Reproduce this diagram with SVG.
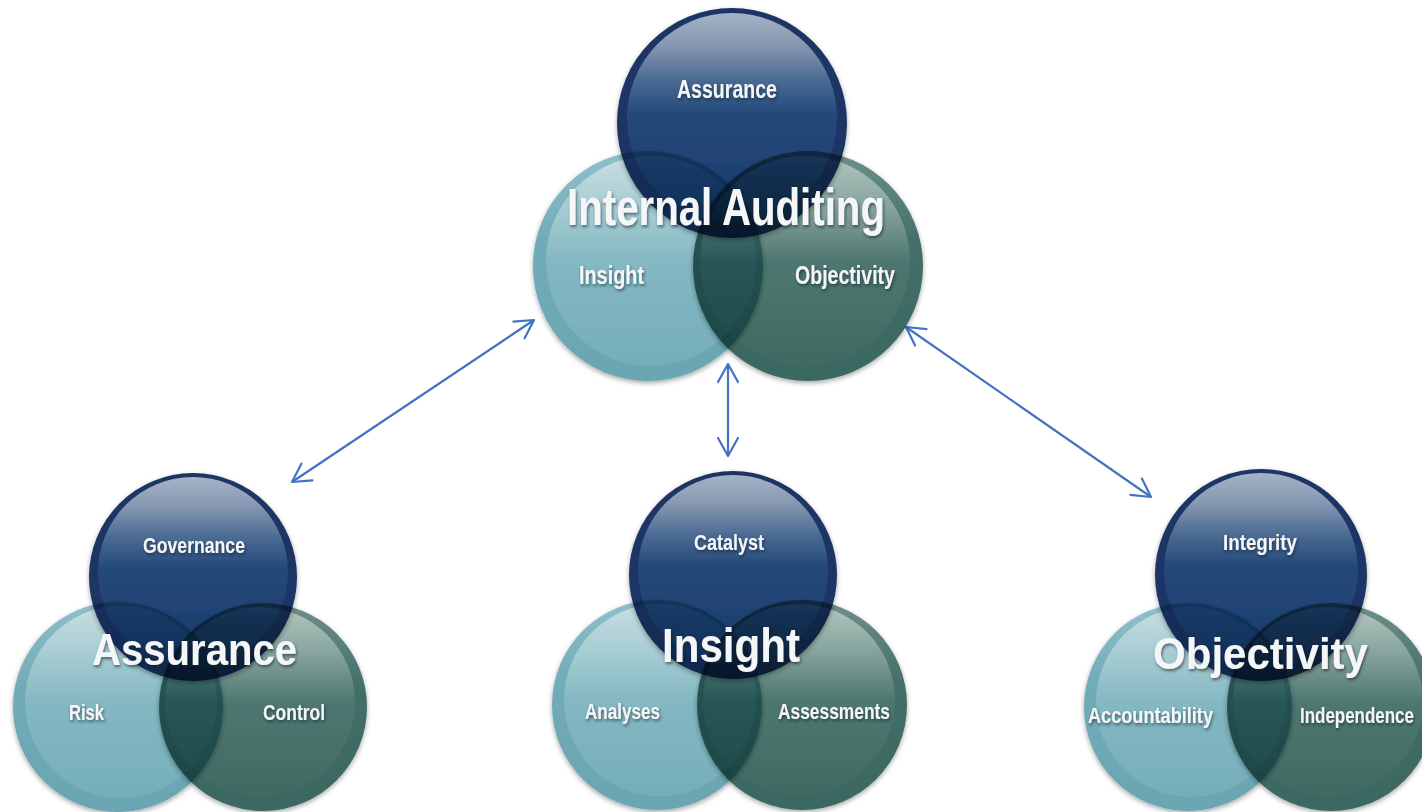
<svg xmlns="http://www.w3.org/2000/svg" width="1422" height="812" viewBox="0 0 1422 812">
<style>
.blend{mix-blend-mode:multiply;filter:url(#sh)}
.navy .rim{fill:#1c3565}
.navy .in{fill:url(#gNavy)}
.teal .rim{fill:url(#rTeal)}
.teal .in{fill:url(#gTeal)}
.green .rim{fill:url(#rGreen)}
.green .in{fill:url(#gGreen)}
.lbl{font-family:"Liberation Sans",Arial,sans-serif;font-weight:bold;fill:#f4f6f8;filter:url(#ts)}
.edge{filter:url(#ts2)}
.s1{font-size:26px}
.s2{font-size:22px}
.b1{font-size:52px}
.b2{font-size:45px}
.conn{stroke:#4472c4;stroke-width:2.2;fill:none;marker-start:url(#ah);marker-end:url(#ah)}
</style>
<defs>
<linearGradient id="gNavy" x1="0" y1="0" x2="0" y2="1">
<stop offset="0" stop-color="#a4b3c6"/>
<stop offset="0.15" stop-color="#8798b1"/>
<stop offset="0.32" stop-color="#4a6a92"/>
<stop offset="0.48" stop-color="#24497a"/>
<stop offset="1" stop-color="#1a3c6b"/>
</linearGradient>
<linearGradient id="gTeal" x1="0" y1="0" x2="0" y2="1">
<stop offset="0" stop-color="#c8dee2"/>
<stop offset="0.25" stop-color="#a6ccd3"/>
<stop offset="0.5" stop-color="#84b8c2"/>
<stop offset="1" stop-color="#75aebb"/>
</linearGradient>
<linearGradient id="rTeal" x1="0" y1="0" x2="0" y2="1">
<stop offset="0" stop-color="#8fc0ca"/>
<stop offset="0.4" stop-color="#71abb7"/>
<stop offset="1" stop-color="#6aa6b2"/>
</linearGradient>
<linearGradient id="gGreen" x1="0" y1="0" x2="0" y2="1">
<stop offset="0" stop-color="#b3c6c0"/>
<stop offset="0.25" stop-color="#85a39c"/>
<stop offset="0.5" stop-color="#4e7770"/>
<stop offset="1" stop-color="#406962"/>
</linearGradient>
<linearGradient id="rGreen" x1="0" y1="0" x2="0" y2="1">
<stop offset="0" stop-color="#6f908a"/>
<stop offset="0.4" stop-color="#436f68"/>
<stop offset="1" stop-color="#3a6760"/>
</linearGradient>
<filter id="sh" x="-20%" y="-20%" width="140%" height="140%">
<feDropShadow dx="0" dy="2" stdDeviation="2.5" flood-color="#000" flood-opacity="0.35"/>
</filter>
<filter id="ts" x="-10%" y="-30%" width="120%" height="160%">
<feDropShadow dx="1" dy="2" stdDeviation="1.5" flood-color="#0a1a2a" flood-opacity="0.6"/>
</filter>
<filter id="ts2" x="-3%" y="-30%" width="106%" height="160%">
<feDropShadow dx="1" dy="2" stdDeviation="1.5" flood-color="#0a1a2a" flood-opacity="0.6"/>
</filter>
<marker id="ah" markerUnits="userSpaceOnUse" markerWidth="26" markerHeight="26" viewBox="-22 -13 26 26" refX="0" refY="0" orient="auto-start-reverse">
<path d="M-18,-10 L0,0 L-18,10" fill="none" stroke="#4472c4" stroke-width="2.2" stroke-linecap="round" stroke-linejoin="round"/>
</marker>
</defs>
<rect width="1422" height="812" fill="#ffffff"/>

<g id="connectors">
<line class="conn" x1="292" y1="482" x2="534" y2="320"/>
<line class="conn" x1="728" y1="364" x2="728" y2="456"/>
<line class="conn" x1="906" y1="327" x2="1151" y2="497"/>
</g>

<g id="internal-auditing">
<g id="ia-assurance" class="blend navy"><circle class="rim" cx="732" cy="123" r="115"/><circle class="in" cx="732" cy="118" r="105"/></g>
<g id="ia-insight" class="blend teal"><circle class="rim" cx="648" cy="266" r="115"/><circle class="in" cx="651" cy="261" r="105"/></g>
<g id="ia-objectivity" class="blend green"><circle class="rim" cx="808" cy="266" r="115"/><circle class="in" cx="805" cy="261" r="105"/></g>
<text class="lbl s1" x="677" y="98" textLength="100" lengthAdjust="spacingAndGlyphs">Assurance</text>
<text class="lbl b1" x="567" y="225" textLength="318" lengthAdjust="spacingAndGlyphs">Internal Auditing</text>
<text class="lbl s1" x="579" y="284" textLength="65" lengthAdjust="spacingAndGlyphs">Insight</text>
<text class="lbl s1" x="795" y="284" textLength="100" lengthAdjust="spacingAndGlyphs">Objectivity</text>
</g>

<g id="assurance">
<g id="as-governance" class="blend navy"><circle class="rim" cx="193" cy="577" r="104"/><circle class="in" cx="193" cy="572" r="95"/></g>
<g id="as-risk" class="blend teal"><circle class="rim" cx="118" cy="707" r="105"/><circle class="in" cx="121" cy="702" r="96"/></g>
<g id="as-control" class="blend green"><circle class="rim" cx="263" cy="707" r="104"/><circle class="in" cx="260" cy="702" r="95"/></g>
<text class="lbl s2" x="143" y="553" textLength="102" lengthAdjust="spacingAndGlyphs">Governance</text>
<text class="lbl b2" x="92" y="665" textLength="205" lengthAdjust="spacingAndGlyphs">Assurance</text>
<text class="lbl s2" x="69" y="720" textLength="35" lengthAdjust="spacingAndGlyphs">Risk</text>
<text class="lbl s2" x="263" y="720" textLength="62" lengthAdjust="spacingAndGlyphs">Control</text>
</g>

<g id="insight">
<g id="in-catalyst" class="blend navy"><circle class="rim" cx="733" cy="575" r="104"/><circle class="in" cx="733" cy="570" r="95"/></g>
<g id="in-analyses" class="blend teal"><circle class="rim" cx="657" cy="705" r="105"/><circle class="in" cx="660" cy="700" r="96"/></g>
<g id="in-assessments" class="blend green"><circle class="rim" cx="802" cy="705" r="105"/><circle class="in" cx="799" cy="700" r="96"/></g>
<text class="lbl s2" x="694" y="550" textLength="70" lengthAdjust="spacingAndGlyphs">Catalyst</text>
<text class="lbl b2" x="662" y="662" textLength="138" lengthAdjust="spacingAndGlyphs" style="font-size:48px">Insight</text>
<text class="lbl s2" x="585" y="719" textLength="75" lengthAdjust="spacingAndGlyphs">Analyses</text>
<text class="lbl s2" x="778" y="719" textLength="112" lengthAdjust="spacingAndGlyphs">Assessments</text>
</g>

<g id="objectivity">
<g id="ob-integrity" class="blend navy"><circle class="rim" cx="1261" cy="575" r="106"/><circle class="in" cx="1261" cy="570" r="97"/></g>
<g id="ob-accountability" class="blend teal"><circle class="rim" cx="1188" cy="707" r="104"/><circle class="in" cx="1191" cy="702" r="95"/></g>
<g id="ob-independence" class="blend green"><circle class="rim" cx="1331" cy="707" r="104"/><circle class="in" cx="1328" cy="702" r="95"/></g>
<text class="lbl s2" x="1223" y="550" textLength="74" lengthAdjust="spacingAndGlyphs">Integrity</text>
<text class="lbl b2" x="1153" y="669" textLength="215" lengthAdjust="spacingAndGlyphs">Objectivity</text>
<text class="lbl s2" x="1088" y="723" textLength="125" lengthAdjust="spacingAndGlyphs">Accountability</text>
<text class="lbl s2 edge" transform="translate(1300,723) scale(0.77,1)" x="0" y="0">Independence</text>
</g>
</svg>
